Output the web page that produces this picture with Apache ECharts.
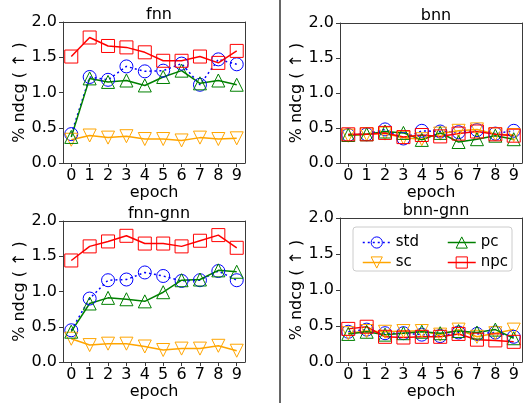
<!DOCTYPE html>
<html>
<head>
<meta charset="utf-8">
<script src="https://cdn.jsdelivr.net/npm/echarts@6/dist/echarts.min.js"></script>
<style>
html,body{margin:0;padding:0;background:#fff;}
#chart{width:529px;height:403px;}
</style>
</head>
<body>
<div id="chart"></div>
<script>
var epochs = [0, 1, 2, 3, 4, 5, 6, 7, 8, 9];
var seriesNames = ['std', 'sc', 'pc', 'npc'];
var panelTitles = ['fnn', 'bnn', 'fnn-gnn', 'bnn-gnn'];

// fnn
var fnnStd = [0.41, 1.22, 1.18, 1.37, 1.30, 1.31, 1.41, 1.11, 1.47, 1.40];
var fnnSc  = [0.33, 0.39, 0.36, 0.38, 0.34, 0.34, 0.32, 0.36, 0.34, 0.35];
var fnnPc  = [0.37, 1.20, 1.15, 1.17, 1.10, 1.22, 1.31, 1.13, 1.17, 1.11];
var fnnNpc = [1.51, 1.78, 1.66, 1.64, 1.57, 1.45, 1.45, 1.51, 1.42, 1.59];
// bnn
var bnnStd = [0.40, 0.41, 0.48, 0.35, 0.46, 0.45, 0.44, 0.47, 0.42, 0.46];
var bnnSc  = [0.39, 0.41, 0.42, 0.36, 0.34, 0.42, 0.46, 0.48, 0.41, 0.40];
var bnnPc  = [0.40, 0.41, 0.45, 0.43, 0.33, 0.43, 0.30, 0.34, 0.39, 0.34];
var bnnNpc = [0.41, 0.41, 0.43, 0.37, 0.40, 0.38, 0.42, 0.45, 0.41, 0.39];
// fnn-gnn
var fgStd = [0.45, 0.90, 1.16, 1.17, 1.27, 1.22, 1.15, 1.16, 1.29, 1.16];
var fgSc  = [0.33, 0.24, 0.26, 0.26, 0.22, 0.17, 0.19, 0.19, 0.23, 0.16];
var fgPc  = [0.43, 0.83, 0.91, 0.89, 0.86, 0.99, 1.16, 1.17, 1.30, 1.28];
var fgNpc = [1.44, 1.64, 1.71, 1.79, 1.68, 1.68, 1.64, 1.72, 1.80, 1.62];
// bnn-gnn
var bgStd = [0.42, 0.45, 0.40, 0.40, 0.38, 0.36, 0.41, 0.39, 0.41, 0.35];
var bgSc  = [0.40, 0.43, 0.42, 0.43, 0.43, 0.38, 0.45, 0.35, 0.40, 0.45];
var bgPc  = [0.39, 0.42, 0.38, 0.40, 0.42, 0.40, 0.43, 0.41, 0.45, 0.33];
var bgNpc = [0.46, 0.49, 0.35, 0.34, 0.35, 0.35, 0.39, 0.31, 0.30, 0.28];

var panelData = [
	[fnnStd, fnnSc, fnnPc, fnnNpc],
	[bnnStd, bnnSc, bnnPc, bnnNpc],
	[fgStd, fgSc, fgPc, fgNpc],
	[bgStd, bgSc, bgPc, bgNpc]
];

var font = 'DejaVu Sans';
var axisColor = '#3a3a3a';
var colors = ['#0000ff', '#ffa500', '#008000', '#ff0000'];
var symbols = ['circle', 'path://M0,0 L10,0 L5,10 Z', 'triangle', 'rect'];
var lineTypes = [[2, 3], 'solid', 'solid', 'solid'];

var grids = [
	{left: 63, top: 22, width: 182, height: 141},
	{left: 340, top: 23, width: 182, height: 140},
	{left: 63, top: 221, width: 182, height: 141},
	{left: 340, top: 218, width: 182, height: 144}
];

function makeLegend(left, names) {
	return {
		left: left, top: 230, orient: 'vertical', itemGap: 5, z: 10,
		itemWidth: 28, itemHeight: 14,
		data: names,
		itemStyle: {borderWidth: 1},
		lineStyle: {width: 1.5},
		textStyle: {fontFamily: font, fontSize: 15, color: '#000'}
	};
}

var option = {
	animation: false,
	backgroundColor: '#fff',
	textStyle: {fontFamily: font},
	title: [],
	grid: [],
	xAxis: [],
	yAxis: [],
	series: [],
	legend: [makeLegend(357, ['std', 'sc']), makeLegend(442, ['pc', 'npc'])],
	graphic: [
		{
			type: 'line', shape: {x1: 280, y1: 0, x2: 280, y2: 403},
			style: {stroke: '#333', lineWidth: 1.5}
		},
		{
			type: 'rect', shape: {x: 353, y: 227, width: 159, height: 44, r: 3},
			style: {fill: 'rgba(255,255,255,0.8)', stroke: '#ccc', lineWidth: 1}, z: 8
		}
	]
};

grids.forEach(function (g, p) {
	option.grid.push({
		left: g.left, top: g.top, width: g.width, height: g.height, containLabel: false
	});
	option.title.push({
		text: panelTitles[p],
		left: g.left + g.width / 2,
		top: g.top - 20,
		textAlign: 'center',
		textStyle: {fontFamily: font, fontSize: 16, fontWeight: 'normal', color: '#000'}
	});
	// bottom axis with ticks and labels
	option.xAxis.push({
		gridIndex: p,
		type: 'value',
		position: 'bottom',
		min: -0.45,
		max: 9.45,
		name: 'epoch',
		nameLocation: 'middle',
		nameGap: 22,
		nameTextStyle: {fontFamily: font, fontSize: 16, color: '#000'},
		axisLine: {show: true, onZero: false, lineStyle: {color: axisColor}},
		axisTick: {show: true, length: 4, customValues: epochs, lineStyle: {color: axisColor}},
		axisLabel: {customValues: epochs, fontFamily: font, fontSize: 16, color: '#000', margin: 5},
		splitLine: {show: false}
	});
	// top spine
	option.xAxis.push({
		gridIndex: p,
		type: 'value',
		position: 'top',
		min: -0.45,
		max: 9.45,
		axisLine: {show: true, onZero: false, lineStyle: {color: axisColor}},
		axisTick: {show: false},
		axisLabel: {show: false},
		splitLine: {show: false}
	});
	option.yAxis.push({
		gridIndex: p,
		type: 'value',
		position: 'left',
		min: 0,
		max: 2,
		interval: 0.5,
		name: '% ndcg ( \u2191 )',
		nameLocation: 'middle',
		nameGap: 30,
		nameRotate: 90,
		nameTextStyle: {fontFamily: font, fontSize: 16, color: '#000'},
		axisLine: {show: true, onZero: false, lineStyle: {color: axisColor}},
		axisTick: {show: true, length: 4, lineStyle: {color: axisColor}},
		axisLabel: {
			fontFamily: font, fontSize: 16, color: '#000', margin: 6,
			formatter: function (v) { return v.toFixed(1); }
		},
		splitLine: {show: false}
	});
	// right spine
	option.yAxis.push({
		gridIndex: p,
		type: 'value',
		position: 'right',
		min: 0,
		max: 2,
		axisLine: {show: true, onZero: false, lineStyle: {color: axisColor}},
		axisTick: {show: false},
		axisLabel: {show: false},
		splitLine: {show: false}
	});
	panelData[p].forEach(function (vals, s) {
		option.series.push({
			name: seriesNames[s],
			type: 'line',
			xAxisIndex: p * 2,
			yAxisIndex: p * 2,
			color: colors[s],
			symbol: symbols[s],
			symbolSize: 13,
			showAllSymbol: true,
			lineStyle: {color: colors[s], width: 1.5, type: lineTypes[s]},
			itemStyle: {color: 'rgba(0,0,0,0)', borderColor: colors[s], borderWidth: 1},
			emphasis: {disabled: true},
			data: epochs.map(function (e, i) { return [e, vals[i]]; })
		});
	});
});

var myChart = echarts.init(document.getElementById('chart'));
myChart.setOption(option);
</script>
</body>
</html>
